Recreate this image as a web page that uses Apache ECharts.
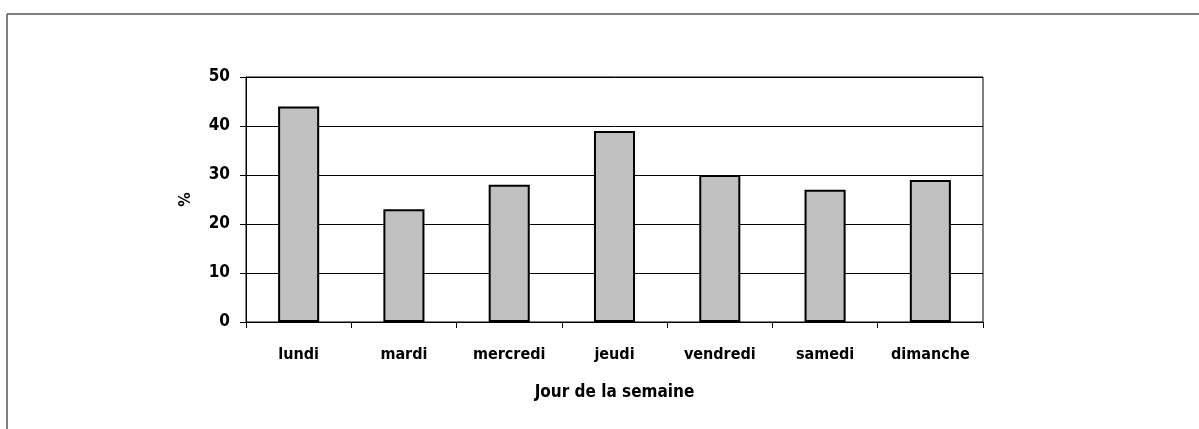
<!DOCTYPE html>
<html><head><meta charset="utf-8">
<script src="https://cdn.jsdelivr.net/npm/echarts@6/dist/echarts.min.js"></script>
<style>html,body{margin:0;padding:0;background:#fff}#c{width:1199px;height:429px}</style>
</head><body><div id="c"></div>
<script>
const categories = ['lundi','mardi','mercredi','jeudi','vendredi','samedi','dimanche'];
const values = [44, 23, 28, 39, 30, 27, 29];
const yTicks = [0, 10, 20, 30, 40, 50];
const xTitle = 'Jour de la semaine';
const yTitle = '%';

const font = '"Liberation Sans Narrow","DejaVu Sans Condensed","Open Sans",sans-serif';
const chart = echarts.init(document.getElementById('c'), null, {renderer:'canvas'});
chart.setOption({
  animation:false,
  backgroundColor:'#fff',
  graphic:[
    {type:'line', shape:{x1:7,y1:14,x2:1199,y2:14}, style:{stroke:'#555',lineWidth:1.5}},
    {type:'line', shape:{x1:7,y1:14,x2:7,y2:429}, style:{stroke:'#555',lineWidth:1.5}}
  ],
  grid:{left:246, top:77, right:216, bottom:107, show:true, borderColor:'#000', borderWidth:1, backgroundColor:'transparent'},
  xAxis:{
    type:'category', data:categories,
    name:xTitle, nameLocation:'middle', nameGap:62,
    nameTextStyle:{fontFamily:font, fontWeight:'bold', fontSize:17, color:'#000'},
    axisLine:{lineStyle:{color:'#000', width:1}},
    axisTick:{show:true, length:6, lineStyle:{color:'#000'}, alignWithLabel:false},
    axisLabel:{fontFamily:font, fontWeight:'bold', fontSize:16, color:'#000', margin:25}
  },
  yAxis:{
    type:'value', min:yTicks[0], max:yTicks[yTicks.length-1], interval:10,
    name:yTitle, nameLocation:'middle', nameGap:52, nameRotate:90,
    nameTextStyle:{fontFamily:font, fontWeight:'bold', fontSize:16, color:'#000'},
    axisLine:{show:true, lineStyle:{color:'#000', width:1}},
    axisTick:{show:true, length:6, lineStyle:{color:'#000'}},
    axisLabel:{fontFamily:font, fontWeight:'bold', fontSize:17, color:'#000', margin:16},
    splitLine:{show:true, lineStyle:{color:'#000', width:1}}
  },
  series:[{
    type:'bar', data:values, barWidth:'39%',
    itemStyle:{color:'#c0c0c0', borderColor:'#000', borderWidth:2}
  }]
});
</script></body></html>
